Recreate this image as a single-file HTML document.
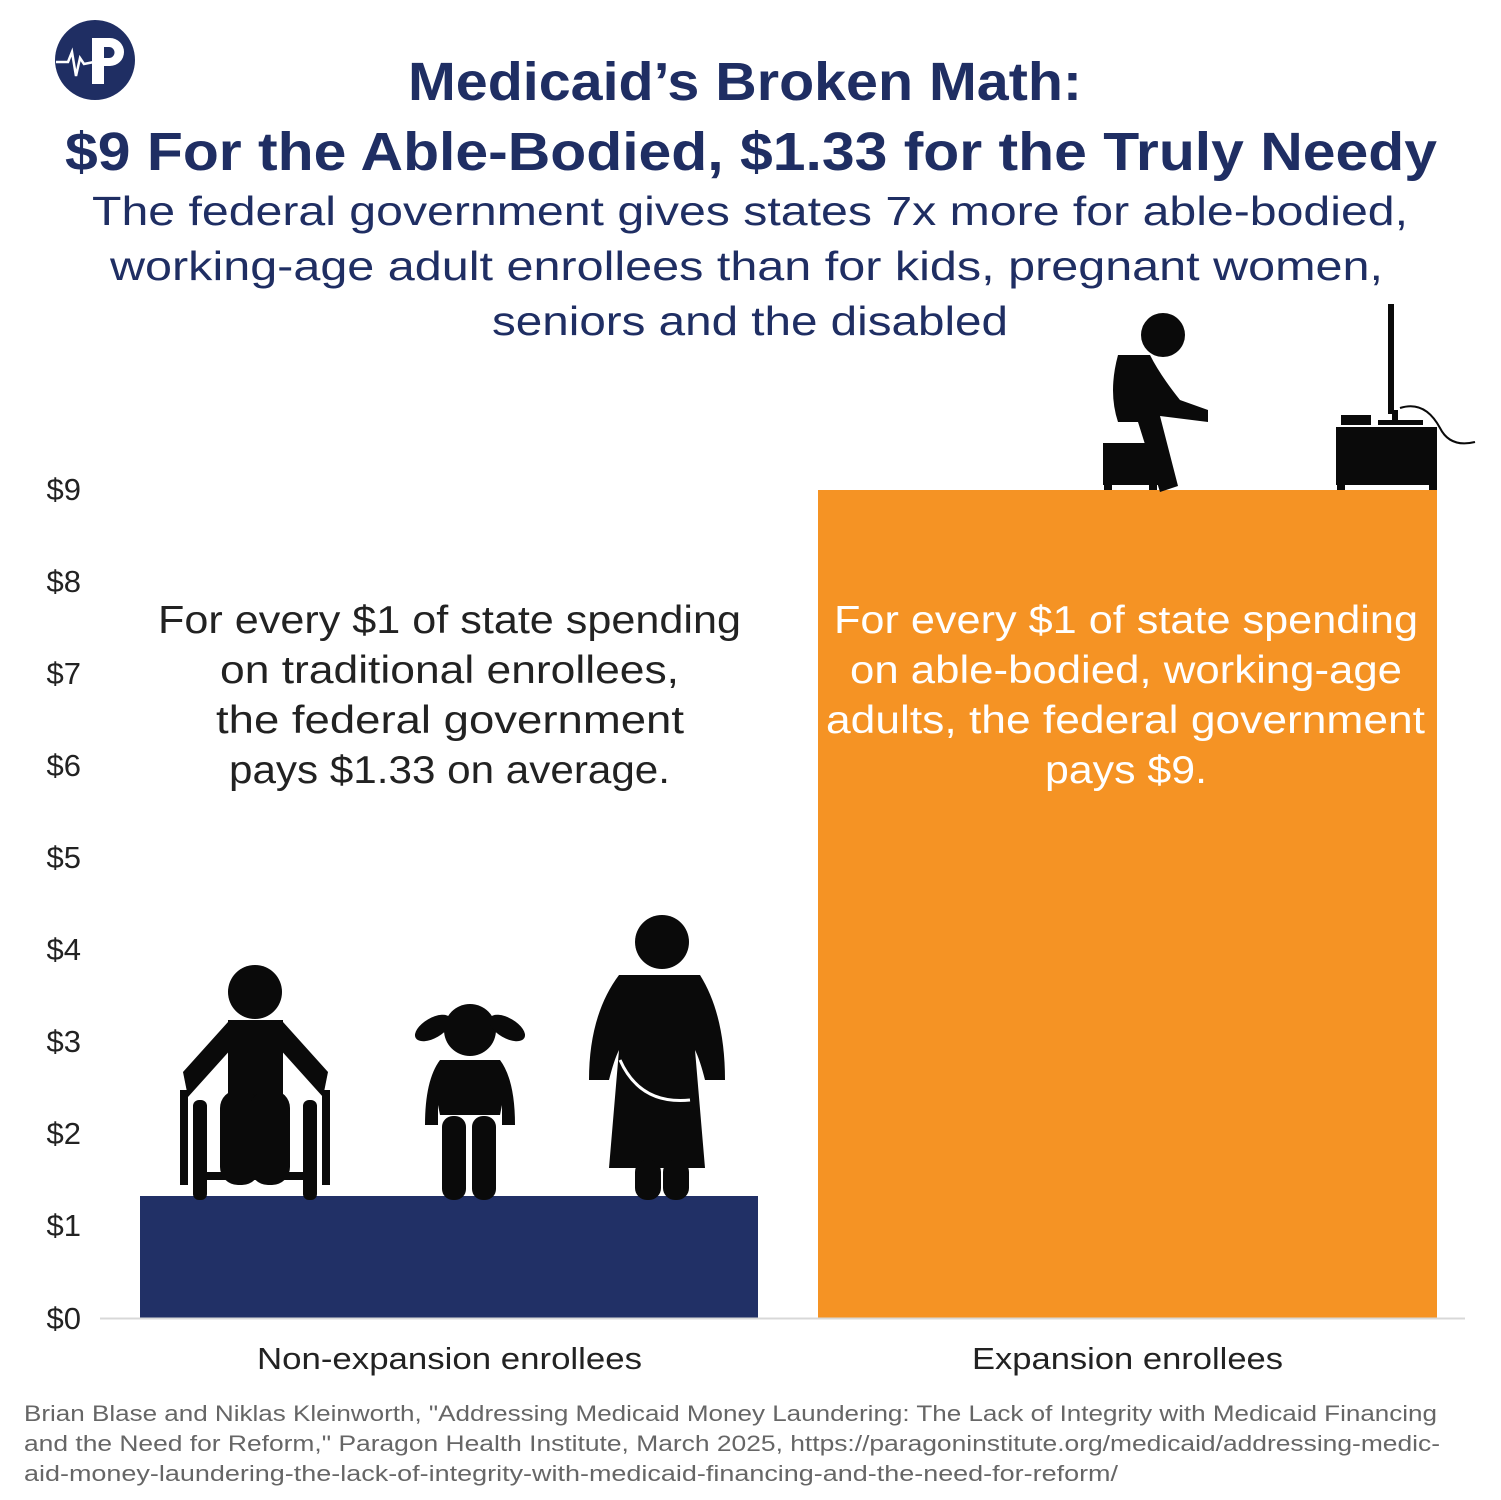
<!DOCTYPE html>
<html><head><meta charset="utf-8"><style>
body{margin:0;background:#fff;width:1501px;height:1500px;overflow:hidden;font-family:"Liberation Sans",sans-serif;}
svg{position:absolute;left:0;top:0}
</style></head><body>
<svg width="1501" height="1500" viewBox="0 0 1501 1500" font-family="Liberation Sans, sans-serif">
<!-- logo -->
<circle cx="95" cy="60" r="40" fill="#1f2e63"/>
<path d="M92 38 h18 a14 14 0 0 1 0 28 h-6 v18 h-12z M104 47 v11 h5 a5.5 5.5 0 0 0 0 -11z" fill="#fff"/>
<polyline points="56,62 68,62 72,52 76,76 80,58 84,64 94,62" fill="none" stroke="#fff" stroke-width="2.5"/>
<!-- titles -->
<g fill="#1f2e63" lengthAdjust="spacingAndGlyphs">
<text x="408" y="100" font-size="54" font-weight="bold" textLength="674" lengthAdjust="spacingAndGlyphs">Medicaid’s Broken Math:</text>
<text x="65" y="170" font-size="54" font-weight="bold" textLength="1372" lengthAdjust="spacingAndGlyphs">$9 For the Able-Bodied, $1.33 for the Truly Needy</text>
<text x="92" y="225" font-size="41" textLength="1316" lengthAdjust="spacingAndGlyphs">The federal government gives states 7x more for able-bodied,</text>
<text x="110" y="280" font-size="41" textLength="1273" lengthAdjust="spacingAndGlyphs">working-age adult enrollees than for kids, pregnant women,</text>
<text x="492" y="335" font-size="41" textLength="516" lengthAdjust="spacingAndGlyphs">seniors and the disabled</text>
</g>
<!-- axis labels -->
<g fill="#222" font-size="31" text-anchor="end">
<text x="81" y="500">$9</text><text x="81" y="592">$8</text><text x="81" y="684">$7</text>
<text x="81" y="776">$6</text><text x="81" y="868">$5</text><text x="81" y="960">$4</text>
<text x="81" y="1052">$3</text><text x="81" y="1144">$2</text><text x="81" y="1236">$1</text>
<text x="81" y="1329">$0</text>
</g>
<!-- bars -->
<rect x="140" y="1196" width="618" height="122" fill="#213066"/>
<rect x="818" y="490" width="619" height="828" fill="#f59324"/>
<line x1="100" y1="1318.5" x2="1465" y2="1318.5" stroke="#d8d8d8" stroke-width="2"/>
<!-- bar text -->
<g fill="#222" font-size="39">
<text x="158" y="633" textLength="583" lengthAdjust="spacingAndGlyphs">For every $1 of state spending</text>
<text x="220" y="683" textLength="459" lengthAdjust="spacingAndGlyphs">on traditional enrollees,</text>
<text x="216" y="733" textLength="468" lengthAdjust="spacingAndGlyphs">the federal  government</text>
<text x="229" y="783" textLength="441" lengthAdjust="spacingAndGlyphs">pays $1.33 on average.</text>
</g>
<g fill="#fff" font-size="39">
<text x="834" y="633" textLength="584" lengthAdjust="spacingAndGlyphs">For every $1 of state spending</text>
<text x="850" y="683" textLength="552" lengthAdjust="spacingAndGlyphs">on able-bodied, working-age</text>
<text x="826" y="733" textLength="599" lengthAdjust="spacingAndGlyphs">adults, the federal government</text>
<text x="1045" y="783" textLength="162" lengthAdjust="spacingAndGlyphs">pays $9.</text>
</g>
<g fill="#222" font-size="31">
<text x="257" y="1369" textLength="385" lengthAdjust="spacingAndGlyphs">Non-expansion enrollees</text>
<text x="972" y="1369" textLength="311" lengthAdjust="spacingAndGlyphs">Expansion enrollees</text>
</g>
<g fill="#666" font-size="22.5">
<text x="24" y="1421" textLength="1413" lengthAdjust="spacingAndGlyphs">Brian Blase and Niklas Kleinworth, "Addressing Medicaid Money Laundering: The Lack of Integrity with Medicaid Financing</text>
<text x="24" y="1451" textLength="1416" lengthAdjust="spacingAndGlyphs">and the Need for Reform," Paragon Health Institute, March 2025, https://paragoninstitute.org/medicaid/addressing-medic-</text>
<text x="24" y="1481" textLength="1094" lengthAdjust="spacingAndGlyphs">aid-money-laundering-the-lack-of-integrity-with-medicaid-financing-and-the-need-for-reform/</text>
</g>
<!-- wheelchair person -->
<g fill="#0a0a0a">
<circle cx="255" cy="992" r="27"/>
<path d="M228 1020 h55 v80 h-55z"/>
<path d="M228 1022 l-45 50 l5 25 l45 -50z"/>
<path d="M283 1022 l45 50 l-5 25 l-45 -50z"/>
<rect x="220" y="1090" width="40" height="95" rx="18"/>
<rect x="250" y="1090" width="40" height="95" rx="18"/>
<rect x="180" y="1090" width="8" height="95"/><rect x="322" y="1090" width="8" height="95"/>
<rect x="193" y="1100" width="14" height="100" rx="6"/><rect x="303" y="1100" width="14" height="100" rx="6"/>
<rect x="193" y="1172" width="124" height="8"/>
</g>
<!-- girl -->
<g fill="#0a0a0a">
<circle cx="470" cy="1030" r="26"/>
<ellipse cx="433" cy="1028" rx="20" ry="10" transform="rotate(-30 433 1028)"/>
<ellipse cx="507" cy="1028" rx="20" ry="10" transform="rotate(30 507 1028)"/>
<path d="M440 1060 h60 q15 20 15 65 h-13 v-20 l-2 10 h-60 l-2 -10 v20 h-13 q0 -45 15 -65z"/>
<rect x="442" y="1116" width="24" height="84" rx="11"/><rect x="472" y="1116" width="24" height="84" rx="11"/>
</g>
<!-- pregnant woman -->
<g fill="#0a0a0a">
<circle cx="662" cy="942" r="27"/>
<path d="M620 975 h80 q25 40 25 105 l-20 0 q-5 -20 -10 -30 l10 118 h-96 l10 -118 q-5 10 -10 30 l-20 0 q0 -65 30 -105z"/>
<rect x="635" y="1160" width="26" height="40" rx="12"/><rect x="663" y="1160" width="26" height="40" rx="12"/>
</g>
<path d="M620 1060 q20 45 70 40" fill="none" stroke="#fff" stroke-width="3"/>
<!-- seated man -->
<g fill="#0a0a0a">
<circle cx="1163" cy="335" r="22"/>
<path d="M1120 355 h30 q10 20 30 45 l28 10 v12 l-48 -6 l18 70 l-18 6 l-22 -70 h-20 q-10 -30 0 -67z"/>
<rect x="1103" y="443" width="55" height="42"/>
<rect x="1104" y="485" width="8" height="5"/><rect x="1149" y="485" width="8" height="5"/>
<!-- tv -->
<rect x="1388" y="304" width="6" height="110"/>
<rect x="1378" y="420" width="45" height="5"/><rect x="1392" y="410" width="6" height="12"/>
<rect x="1341" y="415" width="30" height="10"/>
<rect x="1336" y="427" width="101" height="58"/>
<rect x="1337" y="485" width="8" height="5"/><rect x="1429" y="485" width="8" height="5"/>
</g>
<path d="M1400 408 q25 -8 40 20 q10 20 35 14" fill="none" stroke="#0a0a0a" stroke-width="2"/>
</svg>
</body></html>
